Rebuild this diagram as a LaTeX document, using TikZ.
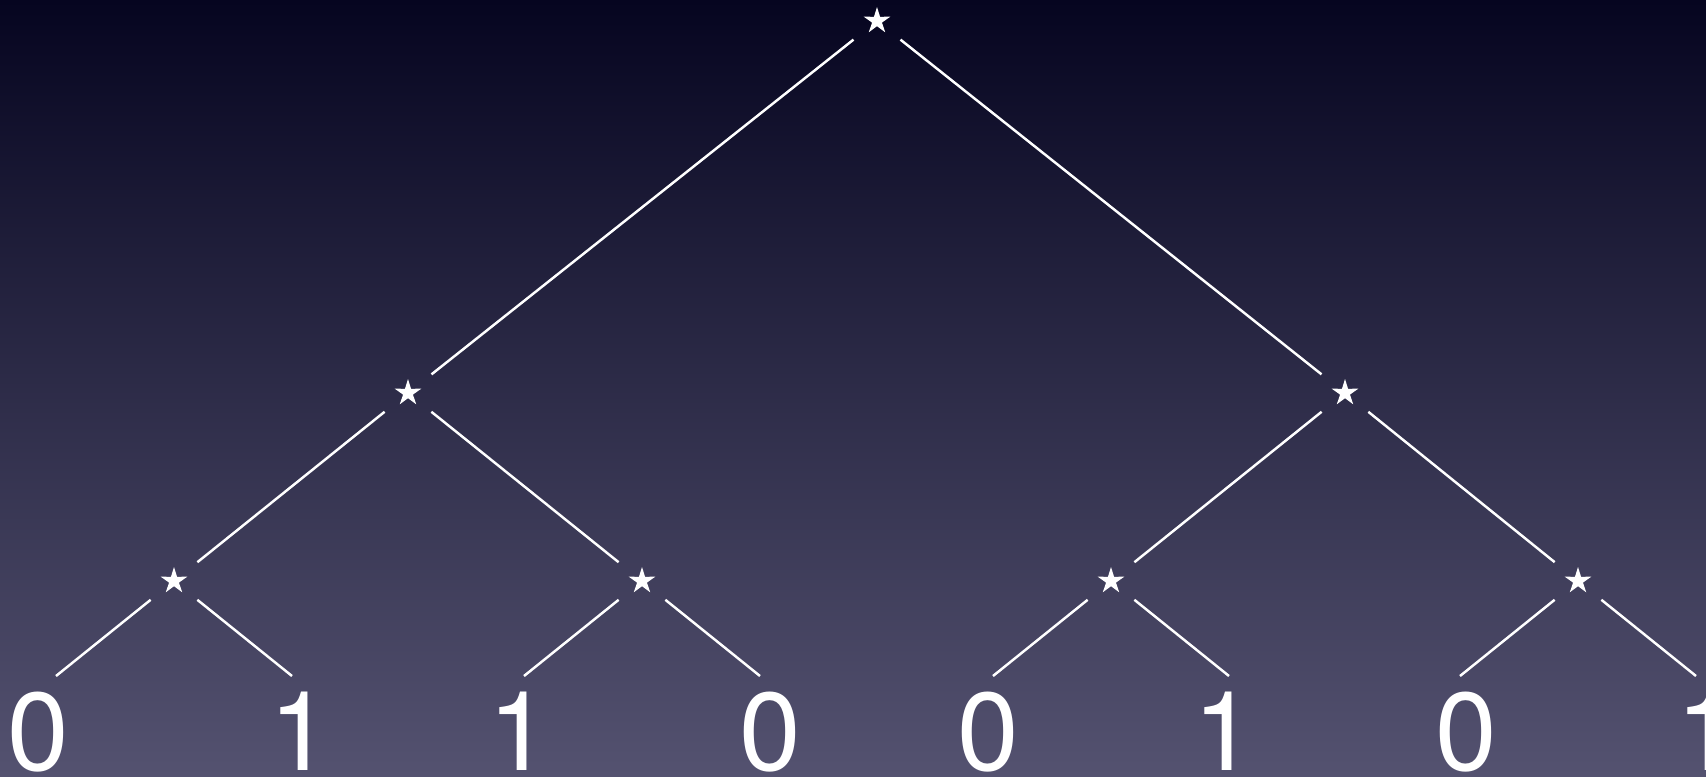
\documentclass[tikz,border=0pt]{standalone}
\usepackage{fontspec}
\newfontfamily\digitfont{TeX Gyre Heros}
\usetikzlibrary{shapes.geometric}
\definecolor{bgtop}{RGB}{6,5,32}
\definecolor{bgbot}{RGB}{84,82,112}

\begin{document}
\begin{tikzpicture}[
    starnode/.style={star, star points=5, star point ratio=2.7, fill=white,
        draw=none, inner sep=0pt, minimum size=0.28cm},
    leaf/.style={anchor=base, text=white, inner sep=0pt,
        font=\digitfont\fontsize{31.5}{31.5}\selectfont},
    edge/.style={draw=white, line width=0.7pt, shorten <=0.30cm},
    inner/.style={edge, shorten >=0.30cm}
]

% Background
\shade[top color=bgtop, bottom color=bgbot] (0,0) rectangle (17.06,7.76);
\clip (0,0) rectangle (17.06,7.76);

% Root and inner knots
\node[starnode] (root) at (8.77,7.55) {};
\node[starnode] (sl) at (4.08,3.83) {};
\node[starnode] (sr) at (13.45,3.83) {};
\node[starnode] (sll) at (1.74,1.95) {};
\node[starnode] (slr) at (6.42,1.95) {};
\node[starnode] (srl) at (11.11,1.95) {};
\node[starnode] (srr) at (15.78,1.95) {};

% Leaf tips
\coordinate (t1) at (0.56,1.00);
\coordinate (t2) at (2.92,1.00);
\coordinate (t3) at (5.24,1.00);
\coordinate (t4) at (7.60,1.00);
\coordinate (t5) at (9.93,1.00);
\coordinate (t6) at (12.29,1.00);
\coordinate (t7) at (14.60,1.00);
\coordinate (t8) at (16.96,1.00);

% Leaves
\node[leaf] (b1) at (0.38,0.06) {0};
\node[leaf] (b2) at (3.00,0.06) {1};
\node[leaf] (b3) at (5.19,0.06) {1};
\node[leaf] (b4) at (7.70,0.06) {0};
\node[leaf] (b5) at (9.88,0.06) {0};
\node[leaf] (b6) at (12.24,0.06) {1};
\node[leaf] (b7) at (14.66,0.06) {0};
\node[leaf] (b8) at (17.07,0.06) {1};

% Branches
\draw[inner] (root.center) -- (sl.center);
\draw[inner] (root.center) -- (sr.center);
\draw[inner] (sl.center) -- (sll.center);
\draw[inner] (sl.center) -- (slr.center);
\draw[inner] (sr.center) -- (srl.center);
\draw[inner] (sr.center) -- (srr.center);

\draw[edge] (sll.center) -- (t1);
\draw[edge] (sll.center) -- (t2);
\draw[edge] (slr.center) -- (t3);
\draw[edge] (slr.center) -- (t4);
\draw[edge] (srl.center) -- (t5);
\draw[edge] (srl.center) -- (t6);
\draw[edge] (srr.center) -- (t7);
\draw[edge] (srr.center) -- (t8);

\end{tikzpicture}
\end{document}
